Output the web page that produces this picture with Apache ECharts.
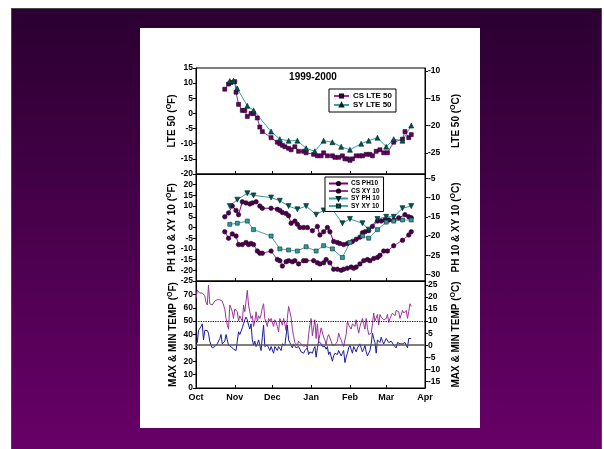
<!DOCTYPE html>
<html>
<head>
<meta charset="utf-8">
<script src="https://cdn.jsdelivr.net/npm/echarts@6/dist/echarts.min.js"></script>
<style>
html,body{margin:0;padding:0;background:#fff;width:604px;height:449px;overflow:hidden;}
#frame{position:absolute;left:11px;top:8px;width:589px;height:441px;border:1.5px solid #4a4a4a;border-bottom:none;background:linear-gradient(to bottom,#2b0031,#680068);}
#panel{position:absolute;left:140px;top:28px;width:340px;height:400px;background:#fff;}
#chart{position:absolute;left:0;top:0;width:604px;height:449px;}
</style>
</head>
<body>
<div id="frame"></div>
<div id="panel"></div>
<div id="chart"></div>
<script>
// ---- x axis (days since Oct 1) ----
const months = ['Oct','Nov','Dec','Jan','Feb','Mar','Apr'];
const monthStartDays = [0,31,61,92,123,152,183];

// ---- top panel: LTE 50 (F) ----
const csLteDays = [23,26,28,31,32,34,37,39,41,44,46,49,51,53,60,65,67,69,71,74,76,79,82,86,88,94,97,100,102,105,109,111,114,117,119,121,123,125,128,131,133,136,139,141,144,147,150,153,158,165,167,170,172];
const csLteVals = [8,9.7,10.2,10.5,7,3,1,1,-1,0,0,-1.5,-4.5,-6,-8,-9.5,-10,-10.5,-11,-11.5,-12,-11,-12.5,-12.5,-13,-13.5,-14,-14,-13,-14,-14,-14.5,-14.5,-14,-15,-15,-15.5,-15,-14,-14,-14,-13.5,-13.5,-14,-12.5,-12,-13,-13,-9.5,-8.5,-6,-8,-7];
const syLteDays = [27,30,33,41,46,60,67,74,81,88,95,102,109,116,123,132,138,145,152,158,165,172];
const syLteVals = [10.7,10.8,8.2,2.5,1,-6,-8.5,-9,-9,-11.5,-12.5,-9,-9.5,-11,-12,-10,-9,-8,-11,-8.5,-9,-4];

// ---- middle panel: PH 10 & XY 10 (F) ----
const csPhDays = [23,26,29,32,34,37,40,43,45,48,51,53,60,65,67,69,72,74,76,79,81,83,86,89,93,97,99,102,105,107,110,113,115,118,121,125,128,131,133,135,138,141,145,148,151,154,158,162,167,170,172];
const csPhVals = [5,6.8,10,8,6,12,11.5,11,11.5,12,10,9,9,8.5,8,7,6.5,5.5,2,3,1.5,0,0,0,-1.5,0.5,-3.5,-2,0,-2,-6.5,-7,-7.5,-8,-7.5,-6.5,-5.5,-4.5,-2.5,-2,-1.5,0.5,3,3,3.5,3.5,3.5,4.5,6,5,4.5];
const csXyDays = [23,26,29,32,34,37,40,42,44,46,49,51,53,60,65,67,69,72,74,77,79,82,86,88,94,97,99,102,104,107,110,113,116,118,121,124,126,128,131,134,137,139,142,145,147,150,153,158,165,170,172];
const csXyVals = [-2,-5,-3,-4,-8,-8,-7,-8,-7.5,-8,-11,-12,-12,-11,-15,-15.5,-18,-16,-15.5,-16,-15.5,-17,-15.5,-15.5,-15.5,-16.5,-17,-16.5,-15,-16.5,-19.5,-19.5,-20,-19.5,-19,-18.5,-19,-18.5,-17,-15.5,-15,-15.5,-14.5,-14,-13,-11,-11,-8.5,-6,-3.5,-2];
const syPhDays = [27,33,41,46,60,67,74,81,88,96,102,109,117,123,133,138,145,152,158,165,172];
const syPhVals = [10,13,16,15,14,12.5,10,8.5,10,6,8,8.5,2,4,2,-1,4,5,5,9,10];
const syXyDays = [27,33,41,46,60,67,74,81,88,96,102,109,117,123,133,138,145,152,158,165,172];
const syXyVals = [1.5,2,3,-1,-4,-10,-10.5,-11,-9,-11,-8.5,-10,-14,-7,-4,-5,-1,2.5,3,3.5,3.5];

// ---- bottom panel: daily max & min temperature (F), one value per day from Oct 1 ----
const maxTemp = [67,73,72,71,72,71,72,69,64,62, 77,63,62,62,63,65,66,66,66,66, 66,65,62,59,52,47,44,62,60,57,
  52,59,58,57,50,54,52,50,62,57, 65,73,62,57,52,54,46,50,57,50, 54,52,55,60,63,52,49,46,52,50,
  52,52,46,51,49,46,42,52,50,47, 52,48,43,52,61,57,53,44,39,34, 33,32,35,34,33,32,31,32,32,30,
  40,47,52,39,45,51,37,48,35,40, 45,44,38,36,32,38,40,41,35,32, 32,32,32,35,41,38,36,33,31,36,
  40,50,47,46,44,48,47,46,51,46, 41,46,49,52,48,44,52,45,40,40, 41,48,56,50,49,55,47,55,53,53,
  51,50,52,55,49,52,53,56,55,54, 58,57,57,52,55,58,56,55,58,52, 57,63,61];
const minTemp = [36,34,43,44,46,48,36,43,43,43, 41,35,32,30,31,31,32,33,34,37, 40,33,32,35,40,36,32,31,31,30,
  29,29,28,35,42,40,41,45,48,51, 53,51,47,44,48,36,32,35,31,33, 36,32,28,38,47,31,31,32,30,28,
  31,32,26,31,30,28,31,30,28,33, 32,32,33,47,36,34,32,30,33,34, 30,30,31,29,27,27,26,28,27,30,
  25,27,27,26,29,31,23,30,35,36, 33,31,31,31,29,31,25,27,28,20, 24,26,25,25,28,26,24,26,28,19,
  23,26,30,32,29,26,31,29,27,30, 30,33,30,27,29,32,27,24,26,28, 33,41,37,34,26,36,35,34,38,35,
  33,32,37,36,34,33,35,36,32,31, 30,34,34,33,32,33,34,34,32,30, 37,37,37];
const refLinesF = [32, 50];

// ---- axis ranges and tick labels ----
const topRangeF = [-20, 15], topStepF = 5, topTicksC = [-25,-20,-15,-10];
const midRangeF = [-25, 25], midStepF = 5, midTicksC = [-30,-25,-20,-15,-10,-5];
const botRangeF = [0, 80], botStepF = 10, botTicksC = [-15,-10,-5,0,5,10,15,20,25];

const FONT = '"Liberation Sans", Arial, sans-serif';
const zip = (xs, ys) => xs.map((x, i) => [x, ys[i]]);
const toC = f => (f - 32) / 1.8;

const chart = echarts.init(document.getElementById('chart'), null, {renderer: 'canvas'});

const gridBase = {left: 196, width: 229, show: true, borderColor: '#000', borderWidth: 1, backgroundColor: 'transparent'};
const grids = [
  Object.assign({top: 68, height: 106}, gridBase),
  Object.assign({top: 174, height: 107}, gridBase),
  Object.assign({top: 281, height: 107}, gridBase)
];

function xAx(gi, showLabels) {
  return {
    type: 'value', gridIndex: gi, min: monthStartDays[0], max: monthStartDays[monthStartDays.length - 1],
    splitLine: {show: false},
    axisLine: {onZero: false, lineStyle: {color: '#000', width: 1}},
    axisTick: {inside: true, length: 3, customValues: monthStartDays, lineStyle: {color: '#000'}},
    axisLabel: {show: showLabels, customValues: monthStartDays, margin: 5,
      formatter: v => months[monthStartDays.indexOf(v)] || '',
      fontFamily: FONT, fontWeight: 'bold', fontSize: 9, color: '#000'}
  };
}

const nameStyle = {
  fontFamily: FONT, fontWeight: 'bold', fontSize: 10, color: '#000',
  rich: {s: {fontFamily: FONT, fontWeight: 'bold', fontSize: 7, color: '#000', verticalAlign: 'top', lineHeight: 12}}
};

function leftAx(gi, range, step, name, hideMax) {
  return {
    type: 'value', gridIndex: gi, position: 'left', min: range[0], max: range[1], interval: step,
    splitLine: {show: false},
    axisLine: {show: true, onZero: false, lineStyle: {color: '#000'}},
    axisTick: {show: true, inside: false, length: 3, lineStyle: {color: '#000'}},
    axisLabel: {showMaxLabel: !hideMax, margin: 3, fontFamily: FONT, fontWeight: 'bold', fontSize: 8.5, color: '#000'},
    name: name, nameLocation: 'middle', nameRotate: 90, nameGap: 17, nameTextStyle: nameStyle
  };
}
function rightAx(gi, rangeF, ticksC, name) {
  return {
    type: 'value', gridIndex: gi, position: 'right', min: toC(rangeF[0]), max: toC(rangeF[1]),
    splitLine: {show: false},
    axisLine: {show: true, onZero: false, lineStyle: {color: '#000'}},
    axisTick: {show: true, inside: false, length: 3, customValues: ticksC, lineStyle: {color: '#000'}},
    axisLabel: {customValues: ticksC, margin: 3, fontFamily: FONT, fontWeight: 'bold', fontSize: 8.5, color: '#000'},
    name: name, nameLocation: 'middle', nameRotate: 90, nameGap: 25, nameTextStyle: nameStyle
  };
}

function markerSeries(name, xi, yi, days, vals, symbol, size, fill, border, lineColor, rotate) {
  return {
    name: name, type: 'line', xAxisIndex: xi, yAxisIndex: yi, data: zip(days, vals),
    symbol: symbol, symbolSize: size, symbolRotate: rotate || 0, showSymbol: true,
    itemStyle: {color: fill, borderColor: border, borderWidth: 0.6},
    lineStyle: {color: lineColor, width: 1},
    emphasis: {disabled: true}
  };
}

const dayIdx = maxTemp.map((_, i) => i);

const option = {
  animation: false,
  backgroundColor: 'transparent',
  textStyle: {fontFamily: FONT},
  grid: grids,
  xAxis: [xAx(0, false), xAx(1, false), xAx(2, true)],
  yAxis: [
    leftAx(0, topRangeF, topStepF, 'LTE 50 ({s|O}F)', false),
    rightAx(0, topRangeF, topTicksC, 'LTE 50 ({s|O}C)'),
    leftAx(1, midRangeF, midStepF, 'PH 10 & XY 10 ({s|O}F)', true),
    rightAx(1, midRangeF, midTicksC, 'PH 10 & XY 10 ({s|O}C)'),
    leftAx(2, botRangeF, botStepF, 'MAX & MIN TEMP ({s|O}F)', true),
    rightAx(2, botRangeF, botTicksC, 'MAX & MIN TEMP ({s|O}C)')
  ],
  legend: [
    {data: ['CS LTE 50', 'SY LTE 50'], orient: 'vertical', left: 329, top: 89,
     backgroundColor: '#fff', borderColor: '#000', borderWidth: 1, borderRadius: 0,
     padding: [3, 4, 3, 4], itemWidth: 15, itemHeight: 4, itemGap: 1, selectedMode: false,
     textStyle: {fontFamily: FONT, fontWeight: 'bold', fontSize: 8, color: '#000', padding: [0, 0, 0, -1]}},
    {data: ['CS PH10', 'CS XY 10', 'SY PH 10', 'SY XY 10'], orient: 'vertical', left: 325, top: 177,
     backgroundColor: '#fff', borderColor: '#000', borderWidth: 1, borderRadius: 0,
     padding: [3, 4, 2, 3], itemWidth: 19, itemHeight: 4, itemGap: 0.5, selectedMode: false,
     textStyle: {fontFamily: FONT, fontWeight: 'bold', fontSize: 6.5, color: '#000', padding: [0, 0, 0, -2]}}
  ],
  graphic: [
    {type: 'text', x: 313, y: 77, style: {text: '1999-2000', font: 'bold 10px ' + FONT, fill: '#000', align: 'center', verticalAlign: 'middle'}}
  ],
  series: [
    markerSeries('CS LTE 50', 0, 0, csLteDays, csLteVals, 'rect', 4, '#660066', '#220022', '#993399'),
    markerSeries('SY LTE 50', 0, 0, syLteDays, syLteVals, 'triangle', 5, '#005555', '#002222', '#33a3a3'),
    markerSeries('CS PH10', 1, 2, csPhDays, csPhVals, 'circle', 4.5, '#4d004d', '#220022', '#800080'),
    markerSeries('CS XY 10', 1, 2, csXyDays, csXyVals, 'circle', 4.5, '#4d004d', '#220022', '#993399'),
    markerSeries('SY PH 10', 1, 2, syPhDays, syPhVals, 'triangle', 5, '#005555', '#002222', '#339999', 180),
    markerSeries('SY XY 10', 1, 2, syXyDays, syXyVals, 'rect', 4, '#339999', '#003333', '#4da6a6'),
    {name: 'MAX', type: 'line', xAxisIndex: 2, yAxisIndex: 4, data: zip(dayIdx, maxTemp),
     showSymbol: false, symbol: 'none', lineStyle: {color: '#993399', width: 1}, emphasis: {disabled: true}},
    {name: 'MIN', type: 'line', xAxisIndex: 2, yAxisIndex: 4, data: zip(dayIdx, minTemp),
     showSymbol: false, symbol: 'none', lineStyle: {color: '#1a1a99', width: 1}, emphasis: {disabled: true},
     markLine: {silent: true, symbol: 'none', label: {show: false}, animation: false,
       data: [
         {yAxis: refLinesF[0], lineStyle: {type: 'solid', color: '#555', width: 1.5}},
         {yAxis: refLinesF[1], lineStyle: {type: 'dotted', color: '#000', width: 1.2}}
       ]}}
  ]
};
chart.setOption(option);
</script>
</body>
</html>
